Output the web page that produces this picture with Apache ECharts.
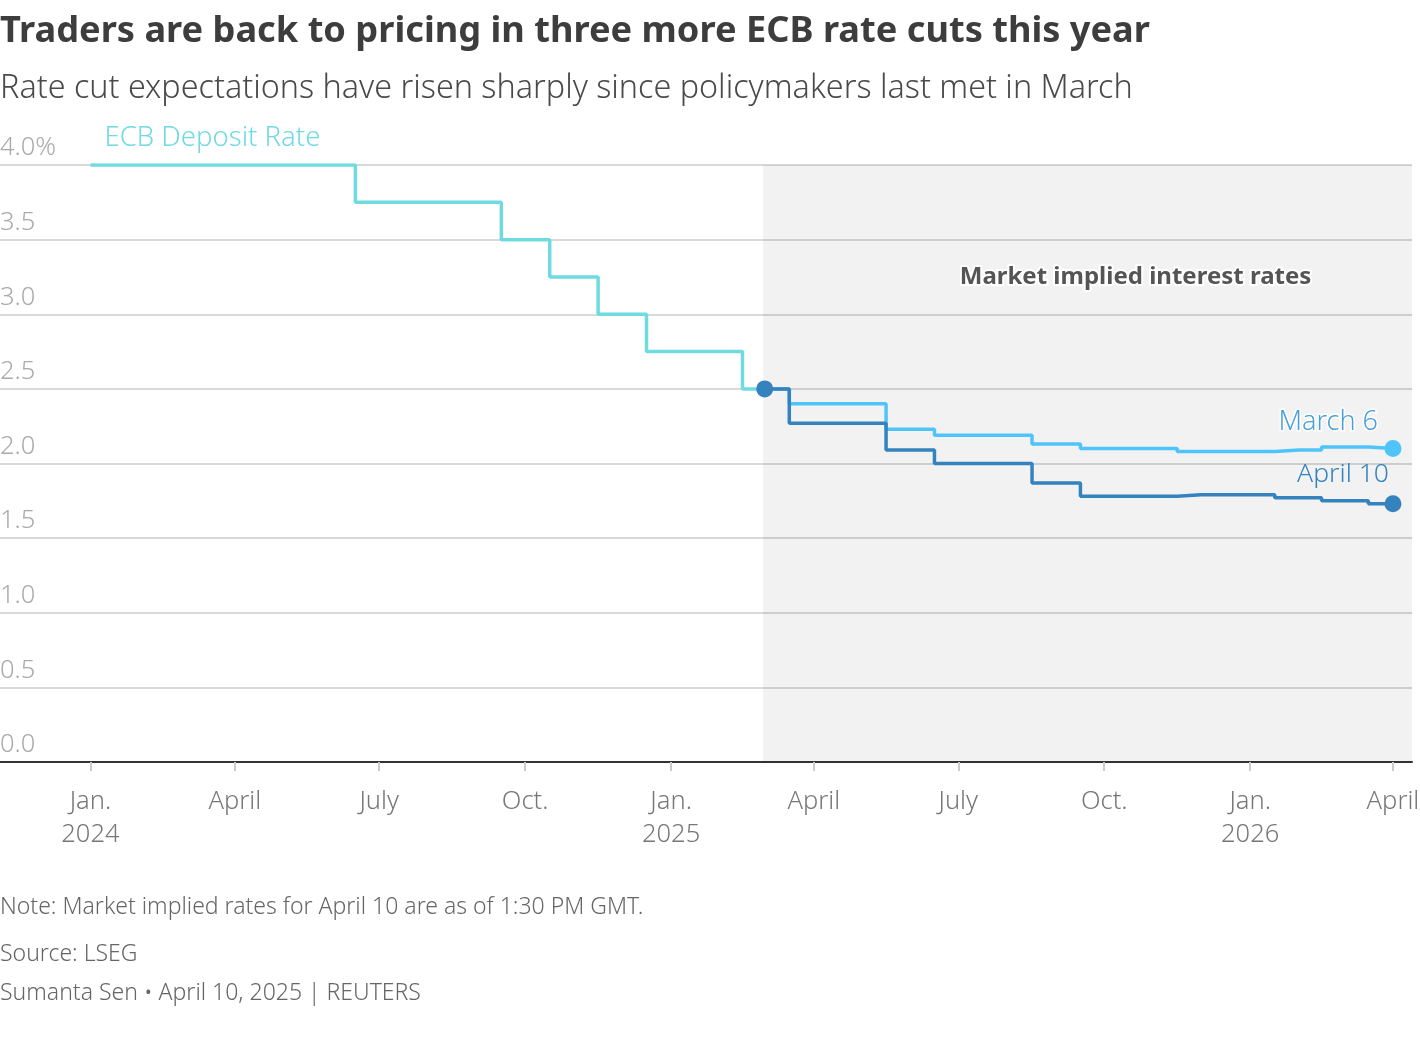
<!DOCTYPE html>
<html>
<head>
<meta charset="utf-8">
<script src="https://cdn.jsdelivr.net/npm/echarts@6/dist/echarts.min.js"></script>
<style>
html,body{margin:0;padding:0;background:#fff;}
#chart{width:1420px;height:1042px;}
</style>
</head>
<body>
<div id="chart"></div>
<script>
// ---- data ----
const ecbDates = ['2024-01-01','2024-02-01','2024-03-01','2024-04-01','2024-05-01','2024-06-01','2024-07-01','2024-08-01','2024-09-01','2024-10-01','2024-11-01','2024-12-01','2025-01-01','2025-02-01','2025-03-01'];
const ecbRate = [4.0,4.0,4.0,4.0,4.0,4.0,3.75,3.75,3.75,3.5,3.25,3.0,2.75,2.75,2.5];

const marketDates = ['2025-03-01','2025-04-01','2025-05-01','2025-06-01','2025-07-01','2025-08-01','2025-09-01','2025-10-01','2025-11-01','2025-12-01','2026-01-01','2026-02-01','2026-03-01','2026-04-01'];
const march6 = [2.5,2.40,2.40,2.23,2.19,2.19,2.13,2.10,2.10,2.08,2.08,2.09,2.11,2.10];
const april10 = [2.5,2.27,2.27,2.09,2.0,2.0,1.87,1.78,1.78,1.79,1.79,1.77,1.75,1.73];

const xTickDates = ['2024-01-01','2024-04-01','2024-07-01','2024-10-01','2025-01-01','2025-04-01','2025-07-01','2025-10-01','2026-01-01','2026-04-01'];
const xTickLabels = ['Jan.\n2024','April','July','Oct.','Jan.\n2025','April','July','Oct.','Jan.\n2026','April'];
const yTicks = [0,0.5,1.0,1.5,2.0,2.5,3.0,3.5,4.0];
const yTickLabels = ['0.0','0.5','1.0','1.5','2.0','2.5','3.0','3.5','4.0%'];

const xMin = '2023-11-05';
const xMax = '2026-04-13';
const shadeStart = '2025-02-28';

// ---- helpers ----
function ts(s){ const p = s.split('-').map(Number); return Date.UTC(p[0], p[1]-1, p[2]); }
function pairs(dates, vals){ return dates.map((d,i)=>[ts(d), vals[i]]); }

const FONT = '"Noto Sans", sans-serif';
const tickTs = xTickDates.map(ts);

const chart = echarts.init(document.getElementById('chart'));
const option = {
  animation:false,
  backgroundColor:'#fff',
  textStyle:{fontFamily:FONT},
  title:[
    {text:'Traders are back to pricing in three more ECB rate cuts this year', left:0, top:14, padding:0,
     textStyle:{fontFamily:FONT, fontSize:36.2, fontWeight:'bold', color:'#3d3d3d'}},
    {text:'Rate cut expectations have risen sharply since policymakers last met in March', left:0, top:73, padding:0,
     textStyle:{fontFamily:FONT, fontSize:32.3, fontWeight:300, color:'#4a4a4a'}},
    {text:'Note: Market implied rates for April 10 are as of 1:30 PM GMT.', left:0, top:896, padding:0,
     textStyle:{fontFamily:FONT, fontSize:23, fontWeight:300, color:'#666'}},
    {text:'Source: LSEG', left:0, top:943, padding:0,
     textStyle:{fontFamily:FONT, fontSize:23, fontWeight:300, color:'#666'}},
    {text:'Sumanta Sen \u2022 April 10, 2025 | REUTERS', left:0, top:982, padding:0,
     textStyle:{fontFamily:FONT, fontSize:23, fontWeight:300, color:'#666'}}
  ],
  grid:{left:0, right:8, top:165, bottom:280, containLabel:false, outerBoundsMode:'none'},
  xAxis:{
    type:'value', min:ts(xMin), max:ts(xMax),
    axisLine:{show:true, lineStyle:{color:'#333', width:2}},
    axisTick:{show:true, customValues:tickTs, length:9, lineStyle:{color:'#ccc', width:2}},
    axisLabel:{customValues:tickTs, margin:23, fontSize:25.5, fontWeight:300, color:'#777', lineHeight:33,
      hideOverlap:false, showMinLabel:true, showMaxLabel:true,
      formatter:function(v){ const i = tickTs.indexOf(v); return i>=0 ? xTickLabels[i] : ''; }},
    splitLine:{show:false}
  },
  yAxis:{
    type:'value', min:0, max:4, interval:0.5,
    axisLine:{show:false}, axisTick:{show:false},
    axisLabel:{inside:true, margin:0, verticalAlign:'bottom', padding:[0,0,4,0], fontSize:25.5, fontWeight:300, color:'#aaa',
      formatter:function(v){ const i = yTicks.findIndex(t=>Math.abs(t-v)<1e-9); return i>=0 ? yTickLabels[i] : ''; }},
    splitLine:{show:true, lineStyle:{color:'#cccccc', width:1.5}}
  },
  series:[
    {
      name:'shade', type:'line', data:[], silent:true,
      markArea:{silent:true, itemStyle:{color:'rgba(0,0,0,0.05)'},
        label:{show:true, position:'insideTop', distance:100, offset:[48,0], formatter:'Market implied interest rates',
          fontFamily:FONT, fontSize:24, fontWeight:'bold', color:'#555', textBorderColor:'#fff', textBorderWidth:4},
        data:[[{xAxis:ts(shadeStart), yAxis:4}, {xAxis:ts(xMax), yAxis:0}]]}
    },
    {
      name:'ECB Deposit Rate', type:'line', step:'middle', data:pairs(ecbDates, ecbRate),
      symbol:'none', lineStyle:{color:'#6fdbe0', width:3.5}, z:3
    },
    {
      name:'March 6', type:'line', step:'middle', data:pairs(marketDates, march6),
      symbol:'none', lineStyle:{color:'#4fc4fa', width:3.5}, z:4
    },
    {
      name:'April 10', type:'line', step:'middle', data:pairs(marketDates, april10),
      symbol:'none', lineStyle:{color:'#3482be', width:3.5}, z:5
    },
    {
      name:'labels', type:'scatter', z:6, silent:true,
      itemStyle:{opacity:1},
      data:[
        {value:[ts(ecbDates[0]), ecbRate[0]], symbolSize:0,
          label:{show:true, position:'right', distance:14, offset:[0,-27], formatter:'ECB Deposit Rate',
            fontSize:27.5, fontWeight:300, color:'#6fdbe0'}},
        {value:[ts(marketDates[0]), april10[0]], symbolSize:17, itemStyle:{color:'#3482be', opacity:1}},
        {value:[ts(marketDates[marketDates.length-1]), march6[march6.length-1]], symbolSize:17, itemStyle:{color:'#4fc4fa', opacity:1},
          label:{show:true, position:'top', align:'right', distance:4, offset:[-15,0], formatter:'March 6',
            fontSize:27, fontWeight:300, color:'#4a9fd8', textBorderColor:'#fff', textBorderWidth:3}},
        {value:[ts(marketDates[marketDates.length-1]), april10[april10.length-1]], symbolSize:17, itemStyle:{color:'#3482be', opacity:1},
          label:{show:true, position:'top', align:'right', distance:7, offset:[-4,0], formatter:'April 10',
            fontSize:26.5, fontWeight:300, color:'#3482be'}}
      ]
    }
  ]
};
chart.setOption(option);
</script>
</body>
</html>
